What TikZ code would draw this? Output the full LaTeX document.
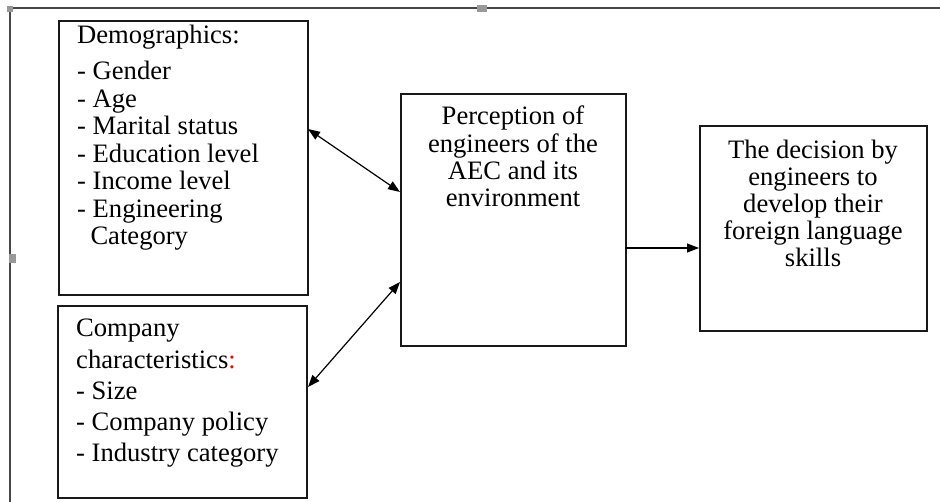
\documentclass[tikz,border=0pt]{standalone}
\usepackage{fontspec}
\setmainfont{Liberation Serif}
\usetikzlibrary{arrows.meta}
\begin{document}
\begin{tikzpicture}[x=1pt,y=-1pt,
  box/.style={draw=black!90, line width=1.8pt, inner sep=0pt, anchor=north west},
  txt/.style={inner sep=0pt},
  tip/.tip={Triangle[length=12pt,width=9pt]},
  link/.style={line width=1.2pt, tip-tip},
  onelink/.style={line width=1.2pt, -tip},
  frame/.style={draw=black!72, line width=2.2pt},
  handle/.style={fill=black!40, draw=none}]
\useasboundingbox (0,0) rectangle (940,502);
% outer frame
\draw[frame] (7,8) -- (940,8);
\draw[frame] (10,8) -- (10,502);
\fill[handle] (7,6) rectangle (13,12);
\fill[handle] (477,5.5) rectangle (487,12.5);
\fill[handle] (9,254) rectangle (16,263);
% boxes
\node[box, minimum width=249pt, minimum height=274pt] (demo) at (58,20) {};
\node[box, minimum width=249pt, minimum height=192pt] (comp) at (57,305) {};
\node[box, minimum width=225pt, minimum height=252pt] (perc) at (400,93) {};
\node[box, minimum width=227pt, minimum height=205pt] (deci) at (699,125) {};
% texts
\node[txt, anchor=north west, align=left, font=\fontsize{26.6}{27.5}\selectfont] (demotxt) at (77,25)
  {Demographics:\\[8.5pt]- Gender\\- Age\\- Marital status\\- Education level\\- Income level\\- Engineering\\\ \ Category};
\node[txt, anchor=north west, align=left, font=\fontsize{26.6}{31.2}\selectfont] (comptxt) at (76,319)
  {Company\\characteristics\textcolor{red}{:}\\- Size\\- Company policy\\- Industry category};
\node[txt, anchor=north, align=center, font=\fontsize{26.6}{27.2}\selectfont] (perctxt) at (513,106)
  {Perception of\\engineers of the\\AEC and its\\environment};
\node[txt, anchor=north, align=center, font=\fontsize{26.6}{27.0}\selectfont] (decitxt) at (813,140)
  {The decision by\\engineers to\\develop their\\foreign language\\skills};
% connectors
\coordinate (d1) at (308,129);
\coordinate (p1) at (400,192);
\coordinate (p2) at (400,282);
\coordinate (c1) at (308,387);
\coordinate (p3) at (625,248);
\coordinate (q3) at (699,248);
\draw[link] (d1) -- (p1);
\draw[link] (p2) -- (c1);
\draw[onelink] (p3) -- (q3);
\end{tikzpicture}
\end{document}
